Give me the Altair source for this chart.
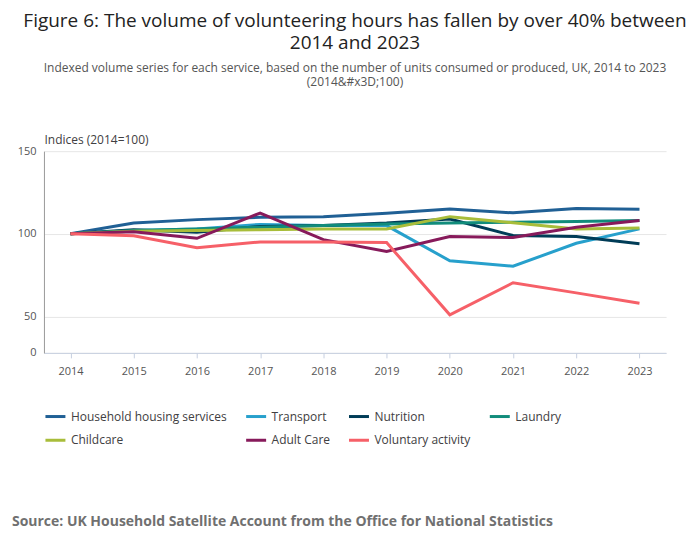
import altair as alt
import pandas as pd

years = [str(y) for y in range(2014, 2024)]
series = ["Household housing services", "Transport", "Nutrition", "Laundry",
          "Childcare", "Adult Care", "Voluntary activity"]
household = [100, 106.5, 108.6, 110, 110.4, 112.4, 115, 112.7, 115.3, 114.9]
transport = [100, 102, 103, 105.7, 105, 105, 83.7, 80.4, 94.3, 103]
nutrition = [100, 102.4, 101, 104.5, 105, 106.5, 109, 99, 98.4, 94]
laundry = [100, 102, 103, 104, 105, 106, 106.5, 107, 107.5, 108]
childcare = [100, 101.5, 102, 102.5, 103, 103, 110.4, 106.7, 103, 103.5]
adult = [100, 101.2, 97.3, 112.6, 96.5, 89.4, 98.4, 97.8, 104, 108]
voluntary = [100, 98.8, 91.6, 95.1, 95.1, 94.7, 51, 70.4, 64.3, 58]
colors = ["#206095", "#27a0cc", "#003c57", "#118c7b", "#a8bd3a", "#871a5b", "#f66068"]

rows = []
for name, vals in zip(series, [household, transport, nutrition, laundry, childcare, adult, voluntary]):
    for y, v in zip(years, vals):
        rows.append({"Year": y, "Series": name, "Value": v})
df = pd.DataFrame(rows)

F = "Open Sans"
lines = alt.Chart(df).mark_line(strokeWidth=3, clip=True).encode(
    x=alt.X("Year:O", scale=alt.Scale(type="point", padding=0.42),
            axis=alt.Axis(title=None, labelAngle=0, grid=False, domainColor="#c6cfe0",
                          tickColor="#c6cfe0", labelColor="#555", labelFont=F, labelFontSize=11,
                          labelPadding=8)),
    y=alt.Y("Value:Q", scale=alt.Scale(domain=[28, 150], nice=False, zero=False),
            axis=alt.Axis(values=[28, 50, 100, 150],
                          labelExpr="datum.value == 28 ? '0' : datum.label",
                          title="Indices (2014=100)", titleAngle=0, titleAlign="left",
                          titleX=0, titleY=-5, titleFontWeight="normal", titleFont=F,
                          titleFontSize=12, titleColor="#414042",
                          gridColor="#e6e6e6", domainColor="#999", ticks=False,
                          labelColor="#555", labelFont=F, labelFontSize=11, labelPadding=8)),
    color=alt.Color("Series:N", scale=alt.Scale(domain=series, range=colors),
                    legend=alt.Legend(title=None, orient="bottom", columns=4, symbolType="stroke",
                                      symbolStrokeWidth=3, symbolSize=400, labelFont=F,
                                      labelFontSize=12, labelColor="#414042", columnPadding=12,
                                      rowPadding=6, offset=28, direction="horizontal",
                                      labelLimit=300)),
)

src = alt.Chart(pd.DataFrame({"t": ["Source: UK Household Satellite Account from the Office for National Statistics"]})).mark_text(
    align="left", baseline="middle", font=F, fontSize=14, fontWeight="bold", color="#707070"
).encode(text="t:N", x=alt.value(-32), y=alt.value(371))

chart = alt.layer(lines, src).properties(
    width=623, height=202,
    title=alt.TitleParams(
        text=["Figure 6: The volume of volunteering hours has fallen by over 40% between", "2014 and 2023"],
        subtitle=["Indexed volume series for each service, based on the number of units consumed or produced, UK, 2014 to 2023", "(2014&#x3D;100)"],
        font=F, fontSize=19, fontWeight="normal", color="#222", anchor="middle",
        subtitleFont=F, subtitleFontSize=12, subtitleColor="#555", subtitlePadding=10,
        offset=45, lineHeight=22),
    padding={"left": 4, "top": 4, "right": 5, "bottom": 5},
).configure_view(stroke=None)

chart.save("out.html", embed_options={"renderer": "svg", "actions": False})
